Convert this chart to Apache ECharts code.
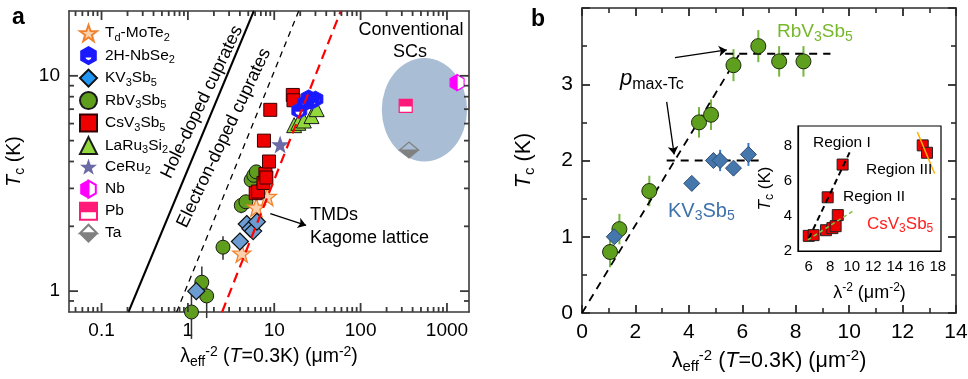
<!DOCTYPE html>
<html>
<head>
<meta charset="utf-8">
<script src="https://cdn.jsdelivr.net/npm/echarts@6.0.0/dist/echarts.min.js"></script>
<style>
html,body{margin:0;padding:0;background:#fff;}
#chart{width:968px;height:379px;}
</style>
</head>
<body>
<div id="chart"></div>
<script>
const FONT = '"Liberation Sans", Arial, Helvetica, sans-serif';

/* ---------------- Panel a data ---------------- */
const aTdMoTe2 = [[4.2, 1.5], [6.2, 2.45], [8.3, 2.75]];
const aNbSe2 = [[19.5, 6.9], [23, 7.5], [25, 7.9], [27, 7.6], [30, 7.8]];
const aKV3Sb5 = [[1.25, 1.0], [4.0, 1.7], [4.8, 2.05], [5.3, 1.95], [5.7, 1.9], [6.3, 2.1]];
const aRbV3Sb5 = [[1.1, 0.8], [1.45, 1.1], [1.65, 0.95], [2.55, 1.6], [4.15, 2.5], [4.7, 2.6], [5.4, 3.28], [5.8, 3.45], [6.2, 3.58]];
const aRbErr = [0.2, 0.2, 0.2, 0.2, 0.2, 0.2, 0.2, 0.2, 0.2];
const aCsV3Sb5 = [[6.1, 2.85], [6.5, 2.9], [7.5, 3.18], [7.9, 3.5], [8.1, 3.37], [8.7, 4.0], [7.6, 5.0], [9.0, 6.95], [16.4, 8.15], [16.7, 7.7]];
const aLaRu3Si2 = [[17, 5.9], [19, 6.05], [22, 6.2], [27, 6.5], [31, 7.0]];
const aCeRu2 = [[11.7, 4.8]];
const aNb = [[1310, 9.3]];
const aPb = [[333, 7.25]];
const aTa = [[364, 4.52]];
const aHoleCuprates = [[0.205, 0.8], [5.8, 20]];
const aElectronCuprates = [[0.74, 0.8], [19.2, 20]];
const aTmdKagome = [[2.49, 0.8], [59, 20]];
const aEllipseBox = [[176, 4.0], [1710, 12.1]];
const aArrow = [[9.0, 2.29], [23.4, 2.02]];

const aXRange = [0.042, 1800];
const aYRange = [0.8, 20];
const aXTickValues = [0.1, 1, 10, 100, 1000];
const aXTickLabels = ['0.1', '1', '10', '100', '1000'];
const aYTickValues = [1, 10];
const aYTickLabels = ['1', '10'];
const aXMinorTicks = [0.05, 0.06, 0.07, 0.08, 0.09, 0.2, 0.3, 0.4, 0.5, 0.6, 0.7, 0.8, 0.9, 2, 3, 4, 5, 6, 7, 8, 9, 20, 30, 40, 50, 60, 70, 80, 90, 200, 300, 400, 500, 600, 700, 800, 900];
const aYMinorTicks = [0.9, 2, 3, 4, 5, 6, 7, 8, 9];

/* ---------------- Panel b data ---------------- */
const bRbV3Sb5 = [[1.05, 0.8], [1.4, 1.1], [2.52, 1.6], [4.38, 2.5], [4.83, 2.6], [5.67, 3.25], [6.6, 3.5], [7.38, 3.3], [8.29, 3.3]];
const bRbErr = [0.2, 0.2, 0.2, 0.2, 0.2, 0.21, 0.21, 0.2, 0.2];
const bKV3Sb5 = [[1.21, 1.0], [4.11, 1.7], [4.92, 2.0], [5.17, 2.0], [5.67, 1.9], [6.23, 2.08]];
const bKErr = [0, 0, 0, 0.14, 0, 0.15];
const bSlope = [[0, 0], [5.9, 3.4]];
const bRbPlateau = [[5.36, 3.4], [9.3, 3.4]];
const bKPlateau = [[3.17, 2.0], [6.67, 2.0]];
const bArrow1 = [[3.48, 3.35], [5.42, 3.45]];
const bArrow2 = [[3.17, 2.77], [3.45, 2.08]];
const bXRange = [0, 14];
const bYRange = [0, 4];

/* ---------------- Inset data ---------------- */
const cCsV3Sb5 = [[6.0, 2.86], [6.45, 2.9], [7.6, 3.18], [8.2, 3.3], [8.5, 3.41], [8.7, 4.04], [7.76, 5.05], [9.15, 6.91], [16.6, 8.0], [17.0, 7.58]];
const cRegionI = [[6.0, 2.7], [9.8, 7.6]];
const cRegionII = [[5.9, 2.63], [10.2, 4.3]];
const cRegionIII = [[16.1, 8.76], [17.7, 6.4]];
const cXRange = [5, 18.3];
const cYRange = [2, 9.1];

/* ---------------- symbols ---------------- */
const STAR = 'path://M50 0L61.76 33.82L97.55 34.55L69.02 56.18L79.39 90.45L50 70L20.61 90.45L30.98 56.18L2.45 34.55L38.24 33.82Z';
const HEX = 'path://M50 0L93 25L93 75L50 100L7 75L7 25Z';
const HEX_NBSE2 = 'path://M50 0L93 25L93 75L50 100L7 75L7 25Z M24 55L31 74L50 84L69 74L76 55Z';
const HEX_NB = 'path://M50 0L93 25L93 75L50 100L7 75L7 25Z M50 0L50 100L93 75L93 25Z';
const SQ = 'path://M0 0L100 0L100 100L0 100Z';
const SQ_PB = 'path://M0 0L100 0L100 100L0 100Z M0 50L0 100L100 100L100 50Z';
const DIA = 'path://M50 0L100 50L50 100L0 50Z';
const DIA_TA = 'path://M50 0L100 50L50 100L0 50Z M50 0L0 50L100 50Z';

function rich(size, subSize, lh, color) {
  const c = color || '#000';
  return {
    n: {fontSize: size, fontFamily: FONT, color: c, fill: c, lineHeight: lh},
    i: {fontSize: size, fontFamily: FONT, color: c, fill: c, fontStyle: 'italic', lineHeight: lh},
    sub: {fontSize: subSize, fontFamily: FONT, color: c, fill: c, lineHeight: subSize + 2, verticalAlign: 'bottom'},
    sup: {fontSize: subSize, fontFamily: FONT, color: c, fill: c, lineHeight: subSize + 2, verticalAlign: 'top'}
  };
}
function tickLabel(values, labels) {
  return function (v) {
    for (let i = 0; i < values.length; i++) {
      if (Math.abs(v - values[i]) <= values[i] * 1e-6) return labels[i];
    }
    return '';
  };
}

const AC = '#3a3a3a';
const BC = '#2a2a2a';

function logAxis(grid, pos, range, vals, labels, showLabel, name, nameGap) {
  return {
    type: 'log', logBase: 10, gridIndex: grid, position: pos,
    min: range[0], max: range[1],
    axisLine: {show: true, onZero: false, lineStyle: {color: AC, width: 1.6}},
    axisTick: {show: false},
    minorTick: {show: false},
    splitLine: {show: false},
    axisLabel: {show: showLabel, formatter: tickLabel(vals, labels), fontSize: 19, fontFamily: FONT, color: '#000', margin: 9,
      showMinLabel: false, showMaxLabel: false},
    name: name || '', nameLocation: 'middle', nameGap: nameGap || 0,
    nameTextStyle: {rich: rich(19.5, 14, 24)}
  };
}
function valAxis(grid, pos, range, interval, showLabel, name, nameGap, fmt) {
  return {
    type: 'value', gridIndex: grid, position: pos,
    min: range[0], max: range[1], interval: interval,
    axisLine: {show: true, onZero: false, lineStyle: {color: BC, width: 1.6}},
    axisTick: {show: true, inside: true, length: 8, lineStyle: {color: BC, width: 1.8}},
    minorTick: {show: true, splitNumber: 2, length: 5, lineStyle: {color: BC, width: 1.6}},
    splitLine: {show: false},
    axisLabel: {show: showLabel, fontSize: 21, fontFamily: FONT, color: '#000', margin: 9, formatter: fmt},
    name: name || '', nameLocation: 'middle', nameGap: nameGap || 0,
    nameTextStyle: {rich: rich(21.5, 15, 26)}
  };
}

/* tick marks for the log panel, drawn as thin rect symbols sitting inside the frame */
function tickMarks(idx, values, side, frame, len, color) {
  let data, size, offset;
  const w = 1.8;
  if (side === 'bottom') { data = values.map(v => [v, frame[0]]); size = [w, len]; offset = [0, -len / 2]; }
  else if (side === 'top') { data = values.map(v => [v, frame[1]]); size = [w, len]; offset = [0, len / 2]; }
  else if (side === 'left') { data = values.map(v => [frame[0], v]); size = [len, w]; offset = [len / 2, 0]; }
  else { data = values.map(v => [frame[1], v]); size = [len, w]; offset = [-len / 2, 0]; }
  return {type: 'scatter', name: 'tick-' + side, xAxisIndex: idx, yAxisIndex: idx, silent: true, clip: false, z: 6,
    symbol: 'rect', symbolSize: size, symbolOffset: offset, data: data,
    itemStyle: {color: color, borderWidth: 0, opacity: 1}};
}
function errorBars(idx, pts, errs, color, width) {
  return {
    type: 'custom', xAxisIndex: idx, yAxisIndex: idx, silent: true, z: 3,
    data: pts.map((p, i) => [p[0], p[1], errs[i]]),
    renderItem: function (params, api) {
      const x = api.value(0), y = api.value(1), e = api.value(2);
      if (!e) return null;
      const p1 = api.coord([x, y - e]);
      const p2 = api.coord([x, y + e]);
      return {type: 'line', shape: {x1: p1[0], y1: p1[1], x2: p2[0], y2: p2[1]}, style: {stroke: color, lineWidth: width}};
    }
  };
}
function lineSeries(idx, data, color, width, type, z) {
  return {type: 'line', xAxisIndex: idx, yAxisIndex: idx, data: data, showSymbol: false, symbol: 'none', silent: true,
    z: z || 2, lineStyle: {color: color, width: width, type: type}};
}
function scatter(idx, name, data, symbol, size, color, border, bw, z) {
  return {type: 'scatter', name: name, xAxisIndex: idx, yAxisIndex: idx, data: data, symbol: symbol, symbolSize: size,
    z: z || 4, itemStyle: {color: color, borderColor: border, borderWidth: bw || 0, opacity: 1}};
}
function arrow(idx, coords) {
  return {type: 'lines', coordinateSystem: 'cartesian2d', xAxisIndex: idx, yAxisIndex: idx, silent: true, z: 7,
    symbol: ['none', 'arrow'], symbolSize: 8,
    lineStyle: {color: '#000', width: 1.3, opacity: 1},
    data: [{coords: coords}]};
}

const legendNames = {
  'Td-MoTe2': '{n|T}{sub|d}{n|-MoTe}{sub|2}',
  '2H-NbSe2': '{n|2H-NbSe}{sub|2}',
  'KV3Sb5': '{n|KV}{sub|3}{n|Sb}{sub|5}',
  'RbV3Sb5': '{n|RbV}{sub|3}{n|Sb}{sub|5}',
  'CsV3Sb5': '{n|CsV}{sub|3}{n|Sb}{sub|5}',
  'LaRu3Si2': '{n|LaRu}{sub|3}{n|Si}{sub|2}',
  'CeRu2': '{n|CeRu}{sub|2}',
  'Nb': '{n|Nb}',
  'Pb': '{n|Pb}',
  'Ta': '{n|Ta}'
};

const series = [
  /* panel a */
  {type: 'custom', xAxisIndex: 0, yAxisIndex: 0, silent: true, z: 1,
    data: [[aEllipseBox[0][0], aEllipseBox[0][1], aEllipseBox[1][0], aEllipseBox[1][1]]],
    renderItem: function (params, api) {
      const p0 = api.coord([api.value(0), api.value(1)]);
      const p1 = api.coord([api.value(2), api.value(3)]);
      const cx = (p0[0] + p1[0]) / 2, cy = (p0[1] + p1[1]) / 2;
      const rx = Math.abs(p1[0] - p0[0]) / 2, ry = Math.abs(p1[1] - p0[1]) / 2;
      return {type: 'circle', x: cx, y: cy, scaleX: rx / ry, shape: {cx: 0, cy: 0, r: ry}, style: {fill: '#a9bdd5'}};
    }},
  lineSeries(0, aHoleCuprates, '#000', 2, 'solid'),
  lineSeries(0, aElectronCuprates, '#000', 1.3, [6, 5]),
  errorBars(0, aRbV3Sb5, aRbErr, '#333', 1.5),
  scatter(0, 'RbV3Sb5', aRbV3Sb5, 'circle', 14, '#5e9e1c', '#1a1a1a', 1, 4),
  scatter(0, 'Td-MoTe2', aTdMoTe2, STAR, 18, '#fbd2ad', '#f0822e', 1.3, 4),
  scatter(0, 'KV3Sb5', aKV3Sb5, DIA, 17, '#6b9cd2', '#111', 1.2, 5),
  scatter(0, 'CsV3Sb5', aCsV3Sb5, SQ, 13, '#ee0000', '#3a0000', 1, 5),
  scatter(0, 'LaRu3Si2', aLaRu3Si2, 'triangle', 15, '#92d83c', '#1a1a1a', 1, 5),
  scatter(0, 'nbse2-under', aNbSe2, HEX, [15, 16], '#fff', '#fff', 0, 5),
  scatter(0, '2H-NbSe2', aNbSe2, HEX_NBSE2, [15, 16], '#1a1aff', '#1a1aff', 0.8, 5),
  scatter(0, 'CeRu2', aCeRu2, STAR, 18, '#6a6aa6', '#6a6aa6', 0, 5),
  scatter(0, 'nb-under', aNb, HEX, [14, 16], '#fff', '#fff', 0, 5),
  scatter(0, 'Nb', aNb, HEX_NB, [14, 16], '#ff00ff', '#ff00ff', 1.2, 5),
  scatter(0, 'pb-under', aPb, SQ, 13, '#fff', '#fff', 0, 5),
  scatter(0, 'Pb', aPb, SQ_PB, 13, '#ff1a7a', '#ff1a7a', 1.2, 5),
  scatter(0, 'Ta', aTa, DIA_TA, [19, 16], '#808080', '#808080', 1.2, 5),
  lineSeries(0, aTmdKagome, '#ff0000', 2.2, [10, 6], 6),
  arrow(0, aArrow),
  tickMarks(0, aXMinorTicks, 'bottom', aYRange, 5, AC),
  tickMarks(0, aXMinorTicks, 'top', aYRange, 5, AC),
  tickMarks(0, aXTickValues, 'bottom', aYRange, 9, AC),
  tickMarks(0, aXTickValues, 'top', aYRange, 9, AC),
  tickMarks(0, aYMinorTicks, 'left', aXRange, 5, AC),
  tickMarks(0, aYMinorTicks, 'right', aXRange, 5, AC),
  tickMarks(0, aYTickValues, 'left', aXRange, 9, AC),
  tickMarks(0, aYTickValues, 'right', aXRange, 9, AC),

  /* panel b */
  lineSeries(2, bSlope, '#000', 1.8, [8, 6], 3),
  lineSeries(2, bRbPlateau, '#000', 1.8, [8, 6], 3),
  lineSeries(2, bKPlateau, '#000', 1.8, [8, 6], 3),
  errorBars(2, bRbV3Sb5, bRbErr, '#74b73b', 2),
  errorBars(2, bKV3Sb5, bKErr, '#3a78c8', 2),
  scatter(2, 'b-Rb', bRbV3Sb5, 'circle', 15, '#5e9f1e', '#1d2b0b', 1, 4),
  scatter(2, 'b-K', bKV3Sb5, 'diamond', 16, '#4577ad', '#2a4c74', 1, 4),
  arrow(2, bArrow1),
  arrow(2, bArrow2),

  /* inset */
  scatter(4, 'c-Cs', cCsV3Sb5, SQ, 11, '#ee0000', '#222', 1, 10),
  lineSeries(4, cRegionI, '#000', 2, [6, 4], 11),
  lineSeries(4, cRegionII, '#7dc143', 1.5, [4, 3], 11),
  lineSeries(4, cRegionIII, '#ffb000', 1.5, 'solid', 11)
];

const option = {
  animation: false,
  backgroundColor: '#fff',
  textStyle: {fontFamily: FONT},
  grid: [
    {left: 69, top: 11, width: 400, height: 301, outerBoundsMode: 'none', containLabel: false},
    {left: 582, top: 8, width: 374, height: 305, outerBoundsMode: 'none', containLabel: false},
    {left: 798, top: 126, width: 143, height: 125, outerBoundsMode: 'none', containLabel: false,
      show: true, backgroundColor: '#fff', borderColor: '#000', borderWidth: 1.2, z: 8}
  ],
  xAxis: [
    logAxis(0, 'bottom', aXRange, aXTickValues, aXTickLabels, true,
      '{n|λ}{sub|eff}{sup|-2}{n| (}{i|T}{n|=0.3K) (μm}{sup|-2}{n|)}', 25),
    logAxis(0, 'top', aXRange, aXTickValues, aXTickLabels, false),
    valAxis(1, 'bottom', bXRange, 2, true,
      '{n|λ}{sub|eff}{sup|-2}{n| (}{i|T}{n|=0.3K) (μm}{sup|-2}{n|)}', 22),
    valAxis(1, 'top', bXRange, 2, false),
    {type: 'value', gridIndex: 2, min: cXRange[0], max: cXRange[1], interval: 1, z: 9,
      axisLine: {show: true, onZero: false, lineStyle: {color: '#000', width: 1.2}},
      axisTick: {show: false}, splitLine: {show: false},
      axisLabel: {fontSize: 15, fontFamily: FONT, color: '#000', margin: 8,
        formatter: v => (Math.abs(v % 2) < 1e-9 && v >= 6 && v <= 18) ? String(v) : ''},
      name: '{n|λ}{sup|-2}{n| (μm}{sup|-2}{n|)}', nameLocation: 'middle', nameGap: 31,
      nameTextStyle: {rich: rich(18, 12, 22)}}
  ],
  yAxis: [
    logAxis(0, 'left', aYRange, aYTickValues, aYTickLabels, true, '{i|T}{sub|c}{n| (K)}', 42),
    logAxis(0, 'right', aYRange, aYTickValues, aYTickLabels, false),
    valAxis(1, 'left', bYRange, 1, true, '{i|T}{sub|c}{n| (K)}', 45, v => (v === 4 ? '' : String(v))),
    valAxis(1, 'right', bYRange, 1, false),
    {type: 'value', gridIndex: 2, min: cYRange[0], max: cYRange[1], interval: 2, z: 9,
      axisLine: {show: true, onZero: false, lineStyle: {color: '#000', width: 1.2}},
      axisTick: {show: false}, splitLine: {show: false},
      axisLabel: {fontSize: 15, fontFamily: FONT, color: '#000', margin: 6,
        formatter: v => (Math.abs(v % 2) < 1e-9 ? String(v) : '')},
      name: '{i|T}{sub|c}{n| (K)}', nameLocation: 'middle', nameGap: 22,
      nameTextStyle: {rich: rich(17, 12, 22)}}
  ],
  legend: {
    orient: 'vertical', left: 74, top: 19, itemWidth: 17, itemHeight: 17, itemGap: 3,
    selectedMode: false,
    data: [
      {name: 'Td-MoTe2'}, {name: '2H-NbSe2'}, {name: 'KV3Sb5', itemStyle: {color: '#2196f3'}},
      {name: 'RbV3Sb5'}, {name: 'CsV3Sb5'}, {name: 'LaRu3Si2'}, {name: 'CeRu2'},
      {name: 'Nb'}, {name: 'Pb'}, {name: 'Ta'}
    ],
    formatter: name => legendNames[name] || name,
    textStyle: {fontSize: 15.5, fontFamily: FONT, color: '#000', padding: [0, 0, 0, 3],
      rich: {
        n: {fontSize: 15.5, fontFamily: FONT, color: '#000', lineHeight: 20},
        sub: {fontSize: 11, fontFamily: FONT, color: '#000', lineHeight: 12, verticalAlign: 'bottom'}
      }}
  },
  graphic: [
    {type: 'text', x: 12, y: 18, style: {text: 'a', font: 'bold 23px ' + FONT, fill: '#000', verticalAlign: 'middle'}},
    {type: 'text', x: 531, y: 20, style: {text: 'b', font: 'bold 23px ' + FONT, fill: '#000', verticalAlign: 'middle'}},
    {type: 'text', x: 202, y: 102, rotation: 64.4 * Math.PI / 180,
      style: {text: 'Hole-doped cuprates', font: '18px ' + FONT, fill: '#000', align: 'center', verticalAlign: 'middle'}},
    {type: 'text', x: 224, y: 138, rotation: 64.5 * Math.PI / 180,
      style: {text: 'Electron-doped cuprates', font: '18px ' + FONT, fill: '#000', align: 'center', verticalAlign: 'middle'}},
    {type: 'text', x: 411, y: 30, style: {text: 'Conventional', font: '18px ' + FONT, fill: '#000', align: 'center', verticalAlign: 'middle'}},
    {type: 'text', x: 410, y: 52, style: {text: 'SCs', font: '18px ' + FONT, fill: '#000', align: 'center', verticalAlign: 'middle'}},
    {type: 'text', x: 310, y: 215, style: {text: 'TMDs', font: '18px ' + FONT, fill: '#000', verticalAlign: 'middle'}},
    {type: 'text', x: 310, y: 238, style: {text: 'Kagome lattice', font: '18px ' + FONT, fill: '#000', verticalAlign: 'middle'}},
    {type: 'text', x: 777, y: 32, style: {text: '{n|RbV}{sub|3}{n|Sb}{sub|5}', rich: rich(19, 14, 24, '#76b82a'), verticalAlign: 'middle'}},
    {type: 'text', x: 668, y: 211, style: {text: '{n|KV}{sub|3}{n|Sb}{sub|5}', rich: rich(20, 14, 24, '#3d72ad'), verticalAlign: 'middle'}},
    {type: 'text', x: 620, y: 79, style: {text: '{i|p}{sub|max-Tc}', rich: rich(22, 16, 28), verticalAlign: 'middle'}},
    {type: 'text', x: 813, y: 143, z: 100, style: {text: 'Region I', font: '15.5px ' + FONT, fill: '#000', verticalAlign: 'middle'}},
    {type: 'text', x: 866, y: 170, z: 100, style: {text: 'Region III', font: '15.5px ' + FONT, fill: '#000', verticalAlign: 'middle'}},
    {type: 'text', x: 843, y: 197, z: 100, style: {text: 'Region II', font: '15.5px ' + FONT, fill: '#000', verticalAlign: 'middle'}},
    {type: 'text', x: 867, y: 224, z: 100, style: {text: '{n|CsV}{sub|3}{n|Sb}{sub|5}', rich: rich(17, 12, 22, '#ff2020'), verticalAlign: 'middle'}}
  ],
  series: series
};

const chart = echarts.init(document.getElementById('chart'), null, {renderer: 'canvas'});
chart.setOption(option);
</script>
</body>
</html>
